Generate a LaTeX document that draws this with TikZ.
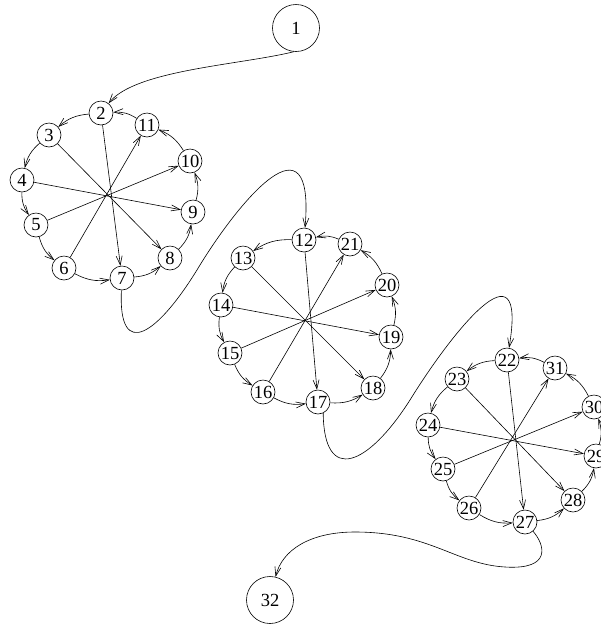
\documentclass[tikz,border=0pt]{standalone}
\usepackage{fontspec}
\setmainfont{Liberation Serif}
\usetikzlibrary{arrows.meta}
\tikzset{
  nd/.style={circle, draw, line width=0.6pt, minimum size=24pt, inner sep=0pt, font=\fontsize{18.5}{18.5}\selectfont},
  bignd/.style={circle, draw, line width=0.6pt, minimum size=47pt, inner sep=0pt, font=\fontsize{18.5}{18.5}\selectfont},
  ed/.style={-{Straight Barb[length=9pt,width=6pt]}, line width=0.6pt},
  ring/.style={ed, bend right=18},
}
\begin{document}
\begin{tikzpicture}[x=1pt,y=1pt]
\useasboundingbox (0,0) rectangle (601,-625);
\node[bignd] (n1) at (296,-28) {1};
\node[nd] (n2) at (101,-113) {2};
\node[nd] (n3) at (49,-135) {3};
\node[nd] (n4) at (22,-180) {4};
\node[nd] (n5) at (36,-225) {5};
\node[nd] (n6) at (64,-268) {6};
\node[nd] (n7) at (122,-278) {7};
\node[nd] (n8) at (170,-258) {8};
\node[nd] (n9) at (193,-212) {9};
\node[nd] (n10) at (190,-161) {10};
\node[nd] (n11) at (147,-125) {11};
\node[nd] (n12) at (304,-240) {12};
\node[nd] (n13) at (243,-258) {13};
\node[nd] (n14) at (221,-305) {14};
\node[nd] (n15) at (230,-353) {15};
\node[nd] (n16) at (263,-392) {16};
\node[nd] (n17) at (318,-402) {17};
\node[nd] (n18) at (373,-388) {18};
\node[nd] (n19) at (391,-337) {19};
\node[nd] (n20) at (387,-285) {20};
\node[nd] (n21) at (350,-244) {21};
\node[nd] (n22) at (507,-360) {22};
\node[nd] (n23) at (457,-379) {23};
\node[nd] (n24) at (428,-425) {24};
\node[nd] (n25) at (443,-469) {25};
\node[nd] (n26) at (469,-508) {26};
\node[nd] (n27) at (525,-522) {27};
\node[nd] (n28) at (573,-500) {28};
\node[nd] (n29) at (596,-456) {29};
\node[nd] (n30) at (594,-407) {30};
\node[nd] (n31) at (555,-368) {31};
\node[bignd] (n32) at (270,-600) {32};
% rings
\foreach \a/\b in {2/3,3/4,4/5,5/6,6/7,7/8,8/9,9/10,10/11,11/2,
                   12/13,13/14,14/15,15/16,16/17,17/18,18/19,19/20,20/21,21/12,
                   22/23,23/24,24/25,25/26,26/27,27/28,28/29,29/30,30/31,31/22}
  \draw[ring] (n\a) to (n\b);
% chords
\foreach \a/\b in {2/7,3/8,4/9,5/10,6/11,12/17,13/18,14/19,15/20,16/21,22/27,23/28,24/29,25/30,26/31}
  \draw[ed] (n\a) -- (n\b);
% long connectors
\draw[ed] (n1.265) .. controls (240,-65) and (135,-70) .. (n2);
\draw[ed] (n7) .. controls (118,-362) and (158,-335) .. (200,-265)
  .. controls (240,-200) and (315,-110) .. (n12);
\draw[ed] (n17.-65) .. controls (324,-485) and (368,-466) .. (410,-400)
  .. controls (450,-335) and (528,-235) .. (n22);
\draw[ed] (n27) .. controls (545,-545) and (552,-570) .. (505,-567)
  .. controls (455,-564) and (430,-532) .. (355,-532)
  .. controls (310,-532) and (282,-550) .. (n32);
\end{tikzpicture}
\end{document}
